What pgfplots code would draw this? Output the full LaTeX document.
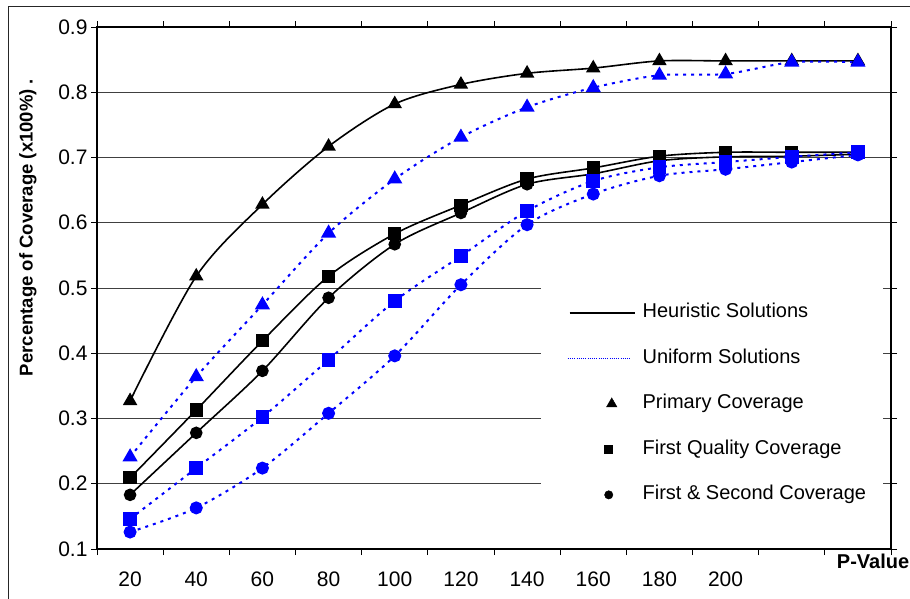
\documentclass[border=0pt]{standalone}
\usepackage{fontspec}
\setmainfont{Liberation Sans}
\usepackage{graphicx}
\usepackage{pgfplots}
\pgfplotsset{compat=1.18}
\definecolor{gridgray}{RGB}{64,64,64}
\definecolor{xblue}{RGB}{0,0,255}
\begin{document}
\begin{tikzpicture}[x=1pt,y=1pt]
\path[use as bounding box] (0,0) rectangle (910,598);
\draw[line width=1pt, black!85] (8,-2) -- (8,591) -- (912,591);
\begin{axis}[
  at={(97pt,49pt)}, anchor=south west,
  width=794pt, height=522pt, scale only axis,
  xmin=-0.5, xmax=11.5, ymin=0.1, ymax=0.9,
  ytick={0.1,0.2,0.3,0.4,0.5,0.6,0.7,0.8,0.9},
  yticklabel style={/pgf/number format/fixed, /pgf/number format/precision=1, /pgf/number format/fixed zerofill},
  /pgf/number format/assume math mode=true,
  xtick={-0.5,0.5,1.5,2.5,3.5,4.5,5.5,6.5,7.5,8.5,9.5,10.5,11.5},
  xticklabels={},
  extra x ticks={0,1,2,3,4,5,6,7,8,9},
  extra x tick labels={20,40,60,80,100,120,140,160,180,200},
  extra x tick style={major tick length=0pt, grid=none, tick label style={yshift=-19pt}},
  tick align=outside, major tick length=6pt,
  tick style={black, line width=1pt},
  tick label style={font=\fontsize{21}{24}\selectfont},
  ymajorgrids, xmajorgrids=false,
  major grid style={gridgray, line width=0.9pt},
  axis line style={line width=2.2pt},
  ylabel={Percentage of Coverage (x100\%) .},
  ylabel style={at={(axis description cs:-0.087,0.616)}, anchor=center, font=\fontsize{18.5}{20}\selectfont\bfseries},
  xlabel={P-Value},
  xlabel style={at={(axis description cs:0.9275,-0.024)}, anchor=west, font=\fontsize{20}{22}\selectfont\bfseries},
  legend style={at={(0.592,0.47)}, anchor=north west, draw=none, fill=none, inner sep=0pt,
    row sep=27.5pt, column sep=7pt, font=\fontsize{20}{22}\selectfont,
    nodes={inner sep=0pt, text height=14pt, text depth=4pt}},
  legend cell align=left,
]
% legend entries
\addlegendimage{legend image code/.code={\path[draw=none,fill=none] (0pt,-6pt) rectangle (64pt,6pt); \draw[black, line width=1.8pt] (2pt,0pt) -- (67pt,0pt);}}
\addlegendentry{Heuristic Solutions}
\addlegendimage{legend image code/.code={\path[draw=none,fill=none] (0pt,-6pt) rectangle (64pt,6pt); \draw[xblue, line width=1pt, dash pattern=on 1pt off 1.2pt] (0pt,0pt) -- (63pt,0pt);}}
\addlegendentry{Uniform Solutions}
\addlegendimage{legend image code/.code={\path[draw=none,fill=none] (0pt,-6pt) rectangle (64pt,6pt); \path[black, draw=black, fill=black] plot[only marks, mark=triangle*, mark size=6pt] coordinates {(44pt,0pt)};}}
\addlegendentry{Primary Coverage}
\addlegendimage{legend image code/.code={\path[draw=none,fill=none] (0pt,-6pt) rectangle (64pt,6pt); \path[black, draw=black, fill=black] plot[only marks, mark=square*, mark size=4pt] coordinates {(40pt,0pt)};}}
\addlegendentry{First Quality Coverage}
\addlegendimage{legend image code/.code={\path[draw=none,fill=none] (0pt,-6pt) rectangle (64pt,6pt); \path[black, draw=black, fill=black] plot[only marks, mark=*, mark size=4.2pt] coordinates {(41pt,0pt)};}}
\addlegendentry{First \& Second Coverage}

% white legend background covering grid lines
\fill[white] (rel axis cs:0.5592,0.027) rectangle (rel axis cs:0.9899,0.572);

% Heuristic (black, solid)
\addplot[black, line width=1.6pt, smooth, mark=triangle*, mark size=6.8pt, mark options={solid, fill=black}, forget plot]
 coordinates {(0,0.327) (1,0.518) (2,0.628) (3,0.717) (4,0.782) (5,0.812) (6,0.829) (7,0.837) (8,0.848) (9,0.848) (10,0.848) (11,0.848)};
\addplot[black, line width=1.6pt, smooth, mark=square*, mark size=5.8pt, mark options={solid, fill=black}, forget plot]
 coordinates {(0,0.209) (1,0.313) (2,0.419) (3,0.518) (4,0.583) (5,0.627) (6,0.667) (7,0.684) (8,0.702) (9,0.708) (10,0.708) (11,0.708)};
\addplot[black, line width=1.6pt, smooth, mark=*, mark size=5.5pt, mark options={solid, fill=black}, forget plot]
 coordinates {(0,0.183) (1,0.278) (2,0.373) (3,0.485) (4,0.567) (5,0.615) (6,0.659) (7,0.675) (8,0.695) (9,0.701) (10,0.702) (11,0.705)};
% Uniform (blue, dotted)
\addplot[xblue, line width=2pt, dash pattern=on 3pt off 5pt, smooth, mark=triangle*, mark size=6.8pt, mark options={solid, fill=xblue}, forget plot]
 coordinates {(0,0.241) (1,0.364) (2,0.474) (3,0.584) (4,0.667) (5,0.731) (6,0.777) (7,0.807) (8,0.826) (9,0.828) (10,0.846) (11,0.846)};
\addplot[xblue, line width=2pt, dash pattern=on 3pt off 5pt, smooth, mark=square*, mark size=5.8pt, mark options={solid, fill=xblue}, forget plot]
 coordinates {(0,0.146) (1,0.224) (2,0.302) (3,0.390) (4,0.480) (5,0.549) (6,0.618) (7,0.664) (8,0.685) (9,0.693) (10,0.701) (11,0.708)};
\addplot[xblue, line width=2pt, dash pattern=on 3pt off 5pt, smooth, mark=*, mark size=5.5pt, mark options={solid, fill=xblue}, forget plot]
 coordinates {(0,0.126) (1,0.163) (2,0.224) (3,0.308) (4,0.396) (5,0.505) (6,0.597) (7,0.644) (8,0.672) (9,0.682) (10,0.693) (11,0.704)};
\end{axis}
\end{tikzpicture}
\end{document}
